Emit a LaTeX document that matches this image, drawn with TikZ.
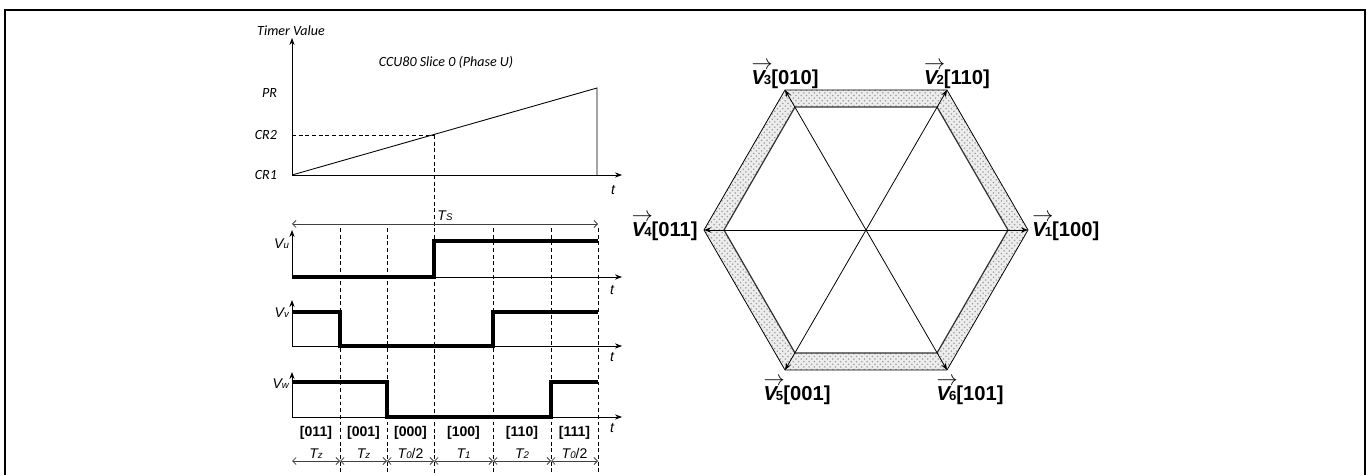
\documentclass[tikz,border=0pt]{standalone}
\usepackage{fontspec}
\setmainfont{Liberation Sans}
\newfontfamily\calfont{Carlito}
\usetikzlibrary{arrows.meta,patterns}
\newcommand{\smallsub}[1]{{\fontsize{5.5}{5.5}\selectfont #1}}
\newcommand{\hexlab}[2]{\rlap{\raisebox{0.76em}{$\rightarrow$}}{\bfseries\itshape V}\kern-0.05em{\fontsize{7.5}{7.5}\selectfont\bfseries #1}\textbf{[#2]}}

\begin{document}
\begin{tikzpicture}[x=0.02cm, y=-0.02cm,
  axis/.style={-{Stealth[length=4pt,width=3pt]}, line width=0.5pt},
  wave/.style={line width=2pt},
  guide/.style={dash pattern=on 2.2pt off 1.6pt, line width=0.4pt},
  span/.style={{Straight Barb[length=2pt,width=4pt]}-{Straight Barb[length=2pt,width=4pt]}, line width=0.45pt, gray!50!black},
  lbl/.style={font=\fontsize{8}{9}\selectfont\itshape, inner sep=1pt, text=black},
  tlbl/.style={font=\calfont\fontsize{8}{9.5}\selectfont\itshape, inner sep=1pt},
  bits/.style={font=\fontsize{8}{9}\selectfont\bfseries, inner sep=1pt},
  vlbl/.style={font=\fontsize{11.5}{13}\selectfont, inner sep=0pt},
  spoke/.style={-{Stealth[length=4pt,width=3pt]}, line width=0.45pt}]
  \useasboundingbox (0,0) rectangle (1368,475);

  % Frame
  \draw[line width=1.2pt] (5,475) -- (5,10) -- (1365,10) -- (1365,475);

  % Timer counting (CCU80 slice 0)
  \coordinate (o) at (292,175);
  \draw[axis] (o) -- (292,38);
  \draw[axis] (o) -- (622,175);
  \node[tlbl] (tv) at (291,31) {Timer Value};
  \node[tlbl] (title) at (446,62) {CCU80 Slice 0 (Phase U)};
  \node[tlbl, anchor=east] (pr) at (279,93) {PR};
  \node[tlbl, anchor=east] (cr2) at (279,135) {CR2};
  \node[tlbl, anchor=east] (cr1) at (279,175) {CR1};
  \node[lbl] (ta) at (613,190) {t};
  \draw[line width=0.5pt] (o) -- (597,88) coordinate (pk) -- (597,175);
  \coordinate (hit) at (434,135);
  \draw[guide] (o |- hit) -- (hit);
  \draw[guide] (hit) -- (434,475);

  % Switching instants
  \foreach \x in {340,387,493,551,598} {
    \draw[guide] (\x,228) -- (\x,475);
  }
  \draw[span] (292,224) -- node[lbl, above=0.5pt] (ts) {T\smallsub{S}} (598,224);

  % Phase U
  \draw[axis] (292,277) -- (292,230);
  \draw[axis] (292,277) -- (622,277);
  \draw[wave] (292,277) -- (434,277) -- (434,241) -- (598,241);
  \node[lbl, anchor=east] (vu) at (291,244) {V\smallsub{u}};
  \node[lbl] (tb) at (612,290) {t};

  % Phase V
  \draw[axis] (292,346) -- (292,300);
  \draw[axis] (292,346) -- (622,346);
  \draw[wave] (292,312) -- (340,312) -- (340,346) -- (493,346) -- (493,312) -- (598,312);
  \node[lbl, anchor=east] (vv) at (291,313) {V\smallsub{v}};
  \node[lbl] (tc) at (612,357) {t};

  % Phase W
  \draw[axis] (292,417) -- (292,372);
  \draw[axis] (292,417) -- (622,417);
  \draw[wave] (292,382) -- (387,382) -- (387,417) -- (551,417) -- (551,382) -- (598,382);
  \node[lbl, anchor=east] (vw) at (291,384) {V\smallsub{w}};
  \node[lbl] (td) at (612,428) {t};

  % Vector sequence and durations
  \foreach \i/\a/\b/\code/\dur in {1/292/340/011/T\smallsub{z}, 2/340/387/001/T\smallsub{z},
      3/387/434/000/{T\smallsub{0}\upshape/2}, 4/434/493/100/T\smallsub{1},
      5/493/551/110/T\smallsub{2}, 6/551/598/111/{T\smallsub{0}\upshape/2}} {
    \node[bits] (b\i) at ({(\a+\b)/2},433) {[\code]};
    \draw[span] (\a,461) -- node[lbl, above=0pt] (s\i) {\dur} (\b,461);
  }

  % Space vector hexagon
  \coordinate (c) at (866,230);
  \foreach \i/\x/\y in {1/1028/230, 2/947/90, 3/785/90, 4/704/230, 5/785/370, 6/947/370} {
    \coordinate (o\i) at (\x,\y);
  }
  \foreach \i/\x/\y in {1/1008/230, 2/937/107, 3/795/107, 4/724/230, 5/795/353, 6/937/353} {
    \coordinate (i\i) at (\x,\y);
  }
  \fill[gray!14, even odd rule] (o1) -- (o2) -- (o3) -- (o4) -- (o5) -- (o6) -- cycle
    (i1) -- (i2) -- (i3) -- (i4) -- (i5) -- (i6) -- cycle;
  \fill[pattern=crosshatch dots, pattern color=gray!75, even odd rule] (o1) -- (o2) -- (o3) -- (o4) -- (o5) -- (o6) -- cycle
    (i1) -- (i2) -- (i3) -- (i4) -- (i5) -- (i6) -- cycle;
  \draw[line width=0.45pt] (o1) -- (o2) -- (o3) -- (o4) -- (o5) -- (o6) -- cycle;
  \draw[line width=0.7pt, gray!40!black] (i1) -- (i2) -- (i3) -- (i4) -- (i5) -- (i6) -- cycle;
  \foreach \i in {1,...,6} {
    \draw[spoke] (c) -- (o\i);
  }
  \node[vlbl, anchor=base west] (h1) at (1032,237) {\hexlab{1}{100}};
  \node[vlbl, anchor=base] (h2) at (957,85) {\hexlab{2}{110}};
  \node[vlbl, anchor=base] (h3) at (785,85) {\hexlab{3}{010}};
  \node[vlbl, anchor=base east] (h4) at (698,237) {\hexlab{4}{011}};
  \node[vlbl, anchor=base] (h5) at (797,401) {\hexlab{5}{001}};
  \node[vlbl, anchor=base] (h6) at (970,401) {\hexlab{6}{101}};
\end{tikzpicture}
\end{document}
